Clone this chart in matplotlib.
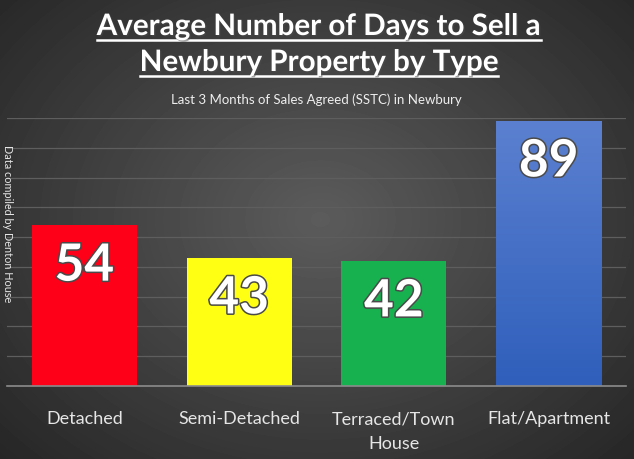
import matplotlib.pyplot as plt
import matplotlib.patheffects as pe
from matplotlib.colors import LinearSegmentedColormap
import numpy as np

categories = ['Detached', 'Semi-Detached', 'Terraced/Town\nHouse', 'Flat/Apartment']
days = [54, 43, 42, 89]
bar_colors = ['#ff0019', '#ffff14', '#17b150', '#3f6cc8']
title_lines = ['Average Number of Days to Sell a', 'Newbury Property by Type']
subtitle = 'Last 3 Months of Sales Agreed (SSTC) in Newbury'
side_note = 'Data compiled by Denton House'

plt.rcParams['font.family'] = ['Lato', 'DejaVu Sans']

W, H = 634, 460
fig = plt.figure(figsize=(W / 100, H / 100), dpi=100)

# radial dark-grey background
bg = fig.add_axes([0, 0, 1, 1])
yy, xx = np.mgrid[0:H, 0:W]
r = np.sqrt(((xx - 320) / 420) ** 2 + ((yy - 220) / 330) ** 2)
shade = np.clip(0.36 - 0.2 * r, 0.13, 0.36)
bg.imshow(shade, cmap='gray', vmin=0, vmax=1, aspect='auto', interpolation='bilinear')
bg.axis('off')

ax = fig.add_axes([7 / W, 73 / H, 619 / W, 268 / H])
ax.patch.set_alpha(0)
x = np.arange(len(categories))
bars = ax.bar(x, days, width=0.68, color=bar_colors, zorder=3)

# blue bar has a vertical gradient, lighter at the top
b = bars[3]
x0, w = b.get_x(), b.get_width()
grad = np.linspace(0, 1, 100).reshape(-1, 1)
cm = LinearSegmentedColormap.from_list('blu', ['#5b80d0', '#2f5fbb'])
im = ax.imshow(grad, cmap=cm, extent=(x0, x0 + w, 0, days[3]), origin='upper',
               aspect='auto', zorder=4)
im.set_clip_path(b)

ax.set_xlim(-0.5, 3.5)
ax.set_ylim(0, 90)
ax.set_yticks(np.arange(10, 91, 10))
ax.yaxis.grid(True, color='#5e5e5e', lw=0.9, zorder=0)
ax.tick_params(axis='y', left=False, labelleft=False)
ax.tick_params(axis='x', bottom=False, pad=14, labelsize=13, colors='#e6e6e6')
ax.set_xticks(x)
ax.set_xticklabels(categories, linespacing=1.65)
for s in ['top', 'right', 'left']:
    ax.spines[s].set_visible(False)
ax.spines['bottom'].set_color('#8c8c8c')
ax.spines['bottom'].set_linewidth(1.2)
ax.spines['bottom'].set_zorder(5)

for xi, v in zip(x, days):
    ax.annotate(str(v), (xi, v), xytext=(0, -29.5), textcoords='offset points',
                ha='center', va='center', fontsize=37, fontweight='bold', color='white',
                zorder=6, path_effects=[pe.withStroke(linewidth=2.2, foreground='#4a4a4a')])

# title with underline
fig.canvas.draw()
rend = fig.canvas.get_renderer()
for i, line in enumerate(title_lines):
    yb = [36, 72][i]
    t = fig.text(319 / W, 1 - yb / H, line, ha='center', va='baseline', fontsize=21.3,
                 fontweight='bold', color='white',
                 path_effects=[pe.withSimplePatchShadow(offset=(1, -1), alpha=0.5)])
    bb = t.get_window_extent(rend)
    uy = 1 - (yb + 5) / H
    fig.add_artist(plt.Line2D([bb.x0 / W, bb.x1 / W], [uy, uy], color='white', lw=1.8,
                              transform=fig.transFigure))

fig.text(316 / W, 1 - 100 / H, subtitle, ha='center', va='center', fontsize=9.5, color='#eeeeee')
fig.text(7 / W, 1 - 224 / H, side_note, ha='center', va='center', rotation=-90,
         fontsize=7.8, color='#e6e6e6')

fig.savefig('out.png', dpi=100)
